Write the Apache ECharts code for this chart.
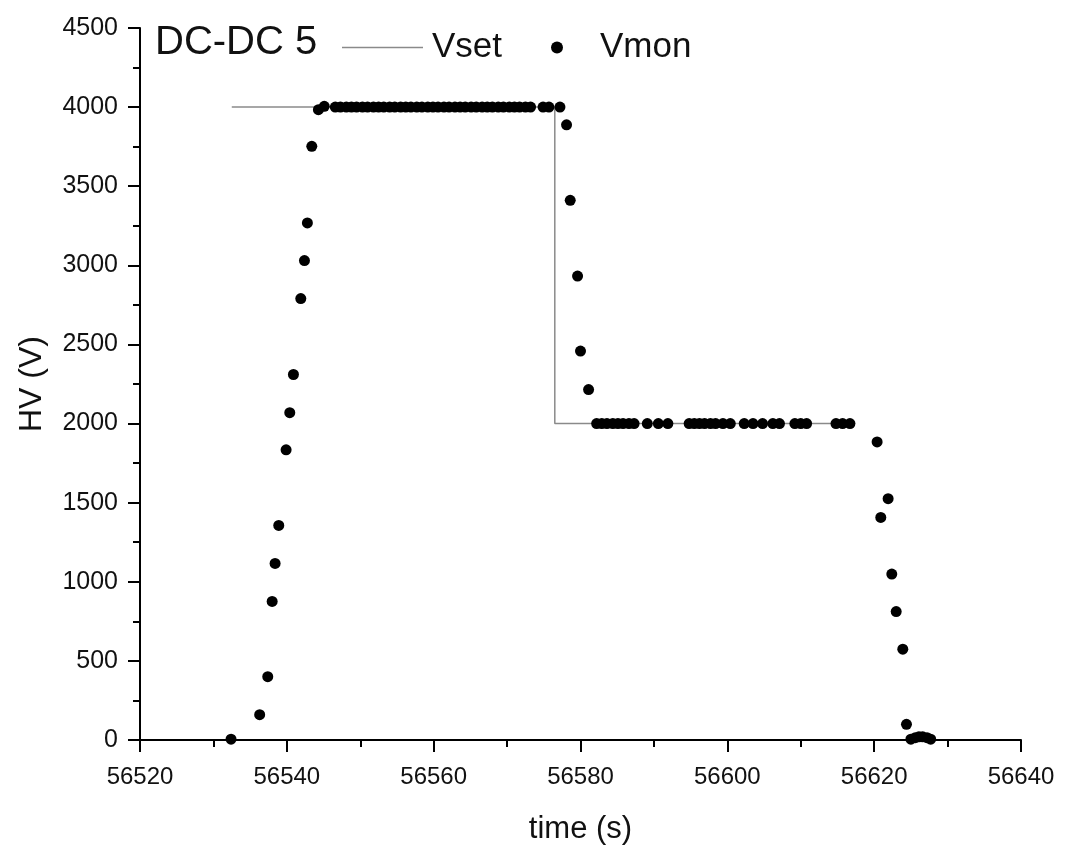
<!DOCTYPE html>
<html>
<head>
<meta charset="utf-8">
<script src="https://cdn.jsdelivr.net/npm/echarts@6/dist/echarts.min.js"></script>
<style>
html,body{margin:0;padding:0;background:#fff;}
#chart{width:1065px;height:855px;}
</style>
</head>
<body>
<div id="chart"></div>
<script>
// ---- data ----
const titleText = 'DC-DC 5';
const xTicks = [56520, 56540, 56560, 56580, 56600, 56620, 56640];
const yTicks = [0, 500, 1000, 1500, 2000, 2500, 3000, 3500, 4000, 4500];

const vsetTime = [56532.5, 56576.5, 56576.5, 56617.4];
const vsetHV   = [4000, 4000, 2000, 2000];

const vmonTime = [
  56532.4, 56536.3, 56537.4, 56538.0, 56538.4, 56538.9, 56539.9, 56540.4, 56540.9,
  56541.9, 56542.4, 56542.8, 56543.4, 56544.3, 56545.1,
  56546.6, 56547.3, 56548.1, 56548.8, 56549.5, 56550.3, 56551.0, 56551.8, 56552.5,
  56553.2, 56554.0, 56554.7, 56555.5, 56556.2, 56556.9, 56557.7, 56558.4, 56559.2,
  56559.9, 56560.6, 56561.4, 56562.1, 56562.9, 56563.6, 56564.3, 56565.1, 56565.8,
  56566.6, 56567.3, 56568.0, 56568.8, 56569.5, 56570.3, 56571.0, 56571.7, 56572.5,
  56573.2, 56574.9, 56575.7, 56577.2,
  56578.1, 56578.6, 56579.6, 56580.0, 56581.1,
  56582.2, 56582.9, 56583.6, 56584.4, 56585.1, 56585.8, 56586.6, 56587.3,
  56589.1, 56590.6, 56591.9,
  56594.8, 56595.5, 56596.2, 56596.9, 56597.7, 56598.4, 56599.4,
  56600.4, 56602.3, 56603.5, 56604.8, 56606.2, 56607.1,
  56609.2, 56610.0, 56610.8, 56614.8, 56615.7, 56616.7,
  56620.4, 56620.9, 56621.9, 56622.4, 56623.0, 56623.9, 56624.4,
  56625.0, 56625.6, 56626.1, 56626.6, 56627.2, 56627.7
];
const vmonHV = [
  5, 160, 400, 876, 1116, 1356, 1834, 2069, 2310,
  2790, 3030, 3268, 3752, 3984, 4005,
  4000, 4000, 4000, 4000, 4000, 4000, 4000, 4000, 4000,
  4000, 4000, 4000, 4000, 4000, 4000, 4000, 4000, 4000,
  4000, 4000, 4000, 4000, 4000, 4000, 4000, 4000, 4000,
  4000, 4000, 4000, 4000, 4000, 4000, 4000, 4000, 4000,
  4000, 4000, 4000, 4000,
  3888, 3411, 2932, 2458, 2215,
  2000, 2000, 2000, 2000, 2000, 2000, 2000, 2000,
  2000, 2000, 2000,
  2000, 2000, 2000, 2000, 2000, 2000, 2000,
  2000, 2000, 2000, 2000, 2000, 2000,
  2000, 2000, 2000, 2000, 2000, 2000,
  1884, 1407, 1525, 1049, 812, 574, 99,
  5, 15, 20, 20, 15, 5
];

// ---- chart ----
const FONT = "'Liberation Sans', Arial, sans-serif";
const chart = echarts.init(document.getElementById('chart'), null, {renderer: 'canvas'});
const option = {
  backgroundColor: '#ffffff',
  animation: false,
  title: {
    text: titleText, left: 150, top: 18,
    textStyle: {fontFamily: FONT, fontSize: 40, fontWeight: 'normal', color: '#111'}
  },
  legend: [
    {
      data: [{name: 'Vset', icon: 'rect'}], left: 337, top: 25, itemWidth: 81, itemHeight: 1.5,
      textStyle: {fontFamily: FONT, fontSize: 35, color: '#111', padding: [0, 0, 0, 4]}
    },
    {
      data: [{name: 'Vmon', icon: 'circle'}], left: 546, top: 25, itemWidth: 12, itemHeight: 12,
      textStyle: {fontFamily: FONT, fontSize: 35, color: '#111', padding: [0, 0, 0, 32]}
    }
  ],
  grid: {left: 140, right: 44, top: 28, bottom: 115, containLabel: false},
  xAxis: {
    type: 'value', min: xTicks[0], max: xTicks[xTicks.length - 1], interval: 20,
    name: 'time (s)', nameLocation: 'middle', nameGap: 74,
    nameTextStyle: {fontFamily: FONT, fontSize: 31, color: '#111'},
    axisLine: {show: true, onZero: false, lineStyle: {color: '#000', width: 2}},
    axisTick: {show: true, length: 12, lineStyle: {color: '#000', width: 2}},
    minorTick: {show: true, splitNumber: 2, length: 7, lineStyle: {color: '#000', width: 2}},
    splitLine: {show: false},
    axisLabel: {fontFamily: FONT, fontSize: 24, color: '#111', margin: 25,
      formatter: v => String(v)}
  },
  yAxis: {
    type: 'value', min: yTicks[0], max: yTicks[yTicks.length - 1], interval: 500,
    name: 'HV (V)', nameLocation: 'middle', nameGap: 92,
    nameTextStyle: {fontFamily: FONT, fontSize: 32, color: '#111'},
    axisLine: {show: true, lineStyle: {color: '#000', width: 2}},
    axisTick: {show: true, length: 12, lineStyle: {color: '#000', width: 2}},
    minorTick: {show: true, splitNumber: 2, length: 7, lineStyle: {color: '#000', width: 2}},
    splitLine: {show: false},
    axisLabel: {fontFamily: FONT, fontSize: 25, color: '#111', margin: 22,
      formatter: v => String(v)}
  },
  series: [
    {
      name: 'Vset', type: 'line', symbol: 'none', z: 2,
      data: vsetTime.map((t, i) => [t, vsetHV[i]]),
      lineStyle: {color: '#8a8a8a', width: 1.5},
      itemStyle: {color: '#8a8a8a'}
    },
    {
      name: 'Vmon', type: 'scatter', symbol: 'circle', symbolSize: 11, z: 3,
      data: vmonTime.map((t, i) => [t, vmonHV[i]]),
      itemStyle: {color: '#000', opacity: 1}
    }
  ]
};
chart.setOption(option);
</script>
</body>
</html>
